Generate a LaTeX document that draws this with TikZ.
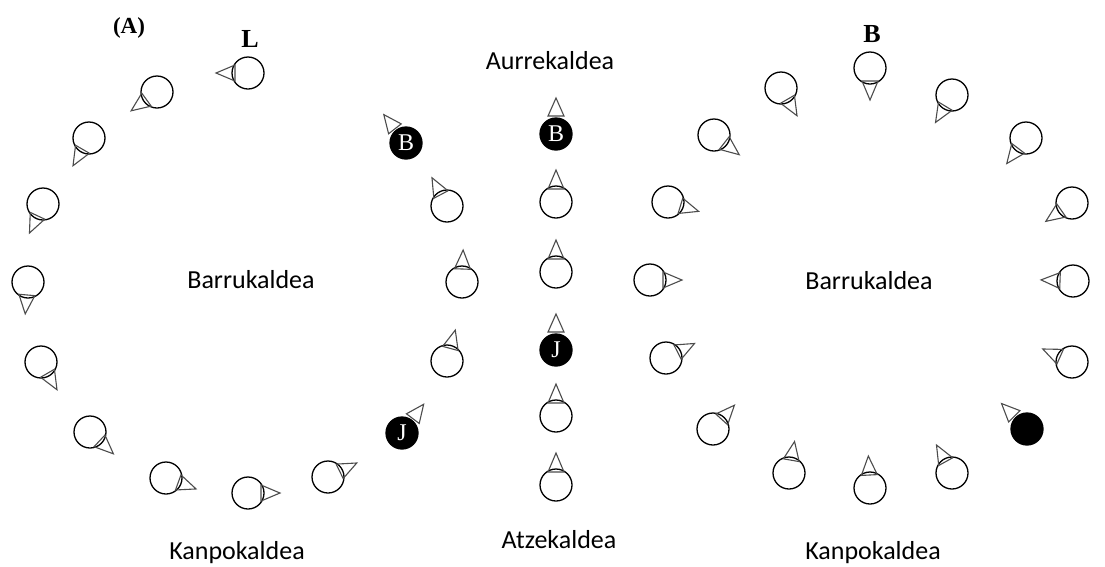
\documentclass[tikz,border=0pt]{standalone}
\usepackage{fontspec}
\setmainfont{Liberation Serif}
\newfontfamily\sidefont{Carlito}

\begin{document}
\begin{tikzpicture}[
 x=1pt,y=-1pt,
 dancer/.style={draw=black,circle,line width=1.3pt,minimum size=32pt,inner sep=0pt},
 lead/.style={dancer,fill=black,text=white,font=\fontsize{24}{24}\selectfont},
 marker/.style={draw=black!70,line width=1.1pt,line join=miter},
 side/.style={anchor=base,font=\sidefont\fontsize{26}{26}\selectfont},
 tag/.style={anchor=base,font=\bfseries\fontsize{26}{26}\selectfont},
 facing/.pic={\draw[marker] (13,-8) -- (32,0) -- (13,8) -- cycle;},
 facing-off/.pic={\draw[marker] (18,-8) -- (36,0) -- (18,8) -- cycle;}
]
\useasboundingbox (0,0) rectangle (1105,566);

% headings and sides
\node (tag-a) [tag,font=\bfseries\fontsize{23}{23}\selectfont] at (129,33) {(A)};
\node (tag-l) [tag] at (250,47) {L};
\node (tag-b) [tag] at (872,42) {B};
\node (front) [side] at (550,69) {Aurrekaldea};
\node (back) [side] at (559,548) {Atzekaldea};
\node (inside-l) [side] at (251,288) {Barrukaldea};
\node (inside-r) [side] at (869,289) {Barrukaldea};
\node (outside-l) [side] at (237,559) {Kanpokaldea};
\node (outside-r) [side] at (873,559) {Kanpokaldea};

% left ring
\foreach \n/\x/\y/\a in {1/248/73/180, 2/157/92/216, 3/89/138/240, 4/43/204/245,
 5/28/282/265, 6/41/362/300, 7/90/432/317, 8/166/478/340, 9/248/493/0,
 10/328/477/26, 12/447/361/75, 13/462/282/88, 14/447/206/118} {
 \node (left-\n) [dancer] at (\x,\y) {};
 \pic [rotate=\a] at (left-\n.center) {facing};
}
\node (left-11) [lead] at (402,433) {J};
\pic [rotate=53] at (left-11.center) {facing-off};
\node (left-15) [lead] at (406,143) {B};
\pic [rotate=128] at (left-15.center) {facing-off};

% middle file
\foreach \n/\y in {2/202, 3/272, 5/416, 6/485} {
 \node (mid-\n) [dancer] at (556,\y) {};
 \pic [rotate=90] at (mid-\n.center) {facing};
}
\node (mid-1) [lead] at (556,134) {B};
\pic [rotate=90] at (mid-1.center) {facing-off};
\node (mid-4) [lead] at (556,350) {J};
\pic [rotate=90] at (mid-4.center) {facing-off};

% right ring
\foreach \n/\x/\y/\a in {1/870/68/270, 2/952/95/239, 3/1026/138/233, 4/1072/203/215,
 5/1073/281/178, 6/1072/362/156, 8/952/473/119, 9/870/488/93, 10/789/473/80,
 11/713/429/48, 12/666/358/27, 13/650/280/0, 14/668/202/343, 15/714/135/322,
 16/781/88/300} {
 \node (right-\n) [dancer] at (\x,\y) {};
 \pic [rotate=\a] at (right-\n.center) {facing};
}
\node (right-7) [lead] at (1027,429) {};
\pic [rotate=135] at (right-7.center) {facing-off};
\end{tikzpicture}
\end{document}
